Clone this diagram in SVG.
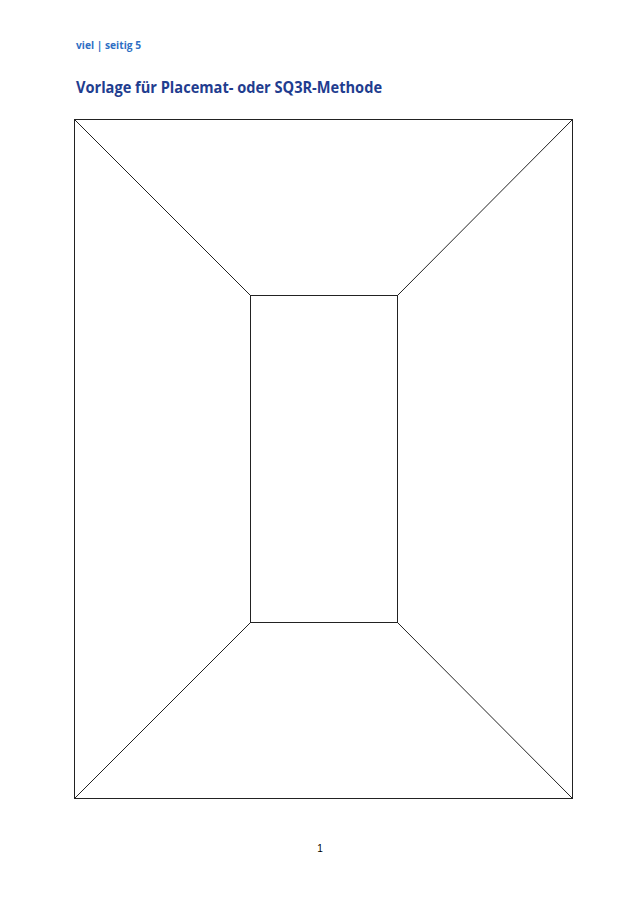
<svg xmlns="http://www.w3.org/2000/svg" width="640" height="905" viewBox="0 0 640 905">
<style>
.ln{stroke:#222;stroke-width:1;fill:none}
.hd{font-family:"Open Sans","Liberation Sans",sans-serif;font-weight:bold}
</style>
<rect width="640" height="905" fill="#fff"/>
<text class="hd" x="76" y="49" font-size="10" fill="#2f6fc4" textLength="65" lengthAdjust="spacingAndGlyphs">viel | seitig 5</text>
<text class="hd" x="76" y="93" font-size="16" fill="#1f3d8f" textLength="306" lengthAdjust="spacingAndGlyphs">Vorlage für Placemat- oder SQ3R-Methode</text>
<g id="outer"><rect class="ln" x="74.5" y="119.5" width="498" height="679"/></g>
<g id="inner"><rect class="ln" x="250.5" y="295.5" width="147" height="327"/></g>
<g id="connectors">
<line class="ln" x1="74.5" y1="119.5" x2="250.5" y2="295.5"/>
<line class="ln" x1="572.5" y1="119.5" x2="397.5" y2="295.5"/>
<line class="ln" x1="74.5" y1="798.5" x2="250.5" y2="622.5"/>
<line class="ln" x1="572.5" y1="798.5" x2="397.5" y2="622.5"/>
</g>
<text x="320" y="852" font-size="10" font-family="Liberation Sans,sans-serif" text-anchor="middle" fill="#000">1</text>
</svg>
